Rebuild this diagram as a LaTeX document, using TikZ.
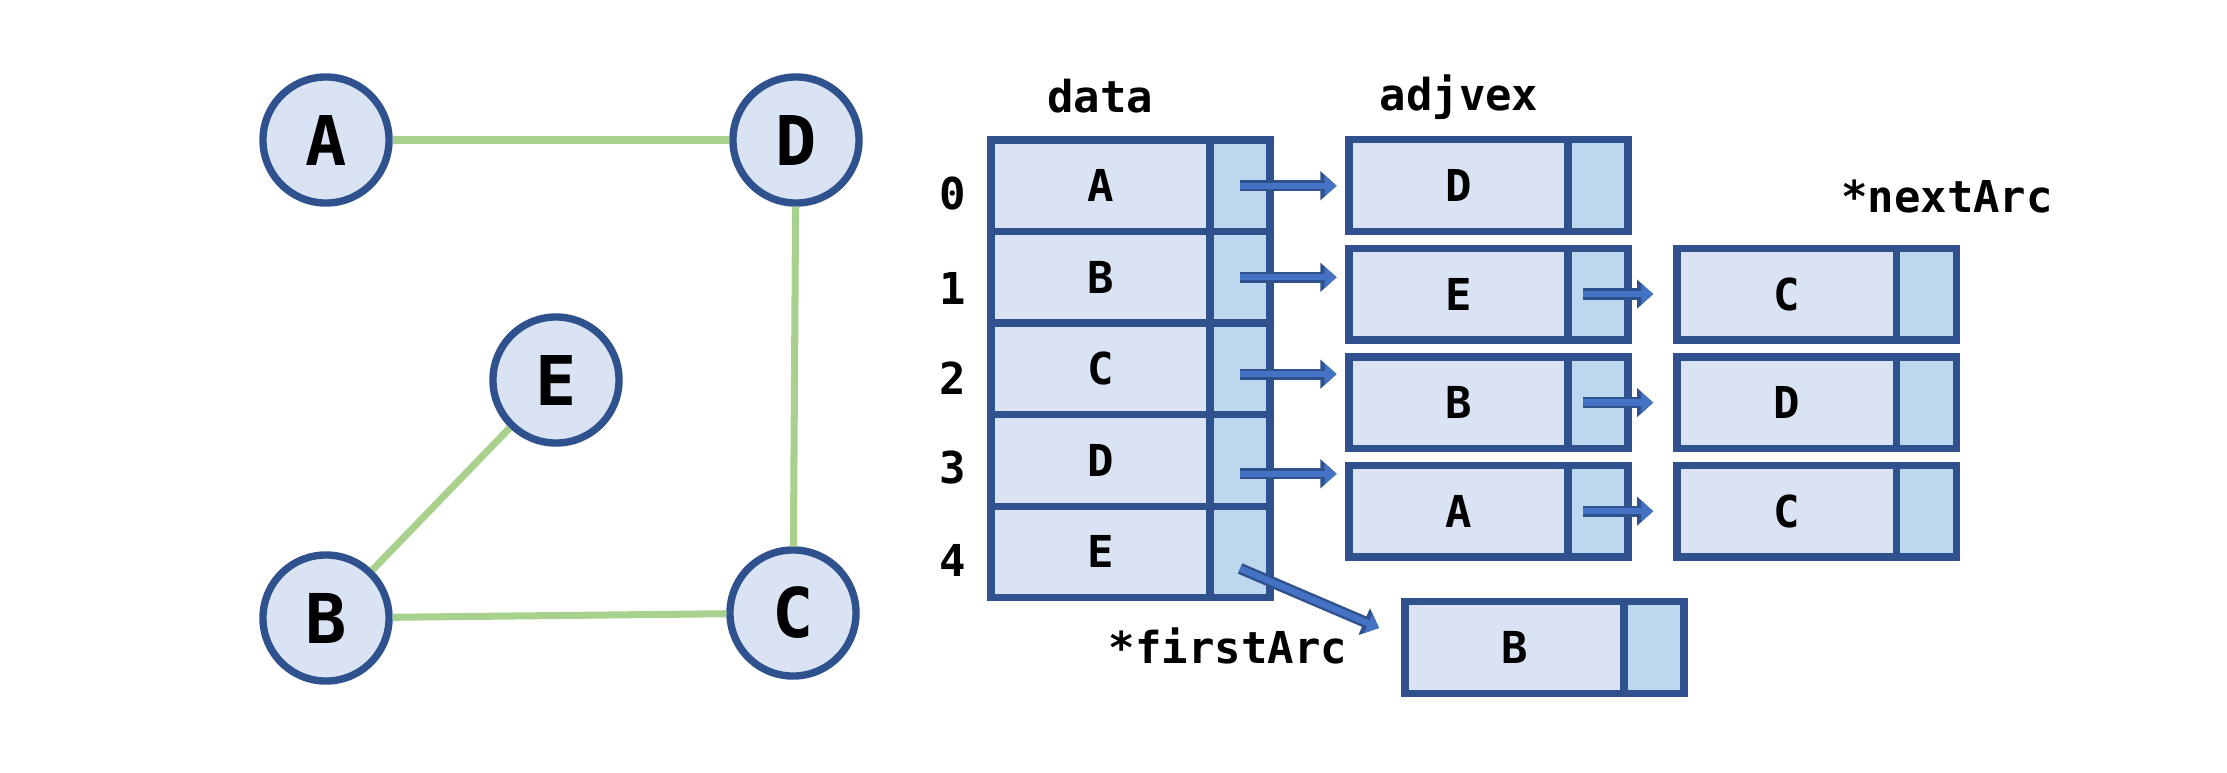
\documentclass[tikz,border=0pt]{standalone}
\usepackage{fontspec}
\setmonofont{DejaVu Sans Mono}
\usepackage{tikz}
\usetikzlibrary{positioning}
\usetikzlibrary{arrows.meta}

\definecolor{cellfill}{HTML}{DAE3F3}
\definecolor{ptrfill}{HTML}{BDD7EE}
\definecolor{frame}{HTML}{2F528F}
\definecolor{graphgreen}{HTML}{A9D18E}
\definecolor{arrowblue}{HTML}{4472C4}

\begin{document}
\begin{tikzpicture}[x=0.01cm, y=-0.01cm,
    vtx/.style={circle, draw=frame, fill=cellfill, line width=2.1pt, minimum size=1.26cm, inner sep=0pt,
        font=\ttfamily\bfseries\fontsize{19.5}{23}\selectfont},
    graphline/.style={graphgreen, line width=2pt},
    cell/.style={rectangle, draw=frame, fill=cellfill, line width=2.1pt, minimum width=2.19cm,
        minimum height=0.915cm, inner sep=0pt, outer sep=0pt,
        font=\ttfamily\bfseries\fontsize{12.5}{15}\selectfont},
    ptr/.style={cell, fill=ptrfill, minimum width=0.6cm},
    lbl/.style={inner sep=0pt, font=\ttfamily\bfseries\fontsize{12.5}{15}\selectfont},
    link/.style={preaction={draw=frame, line width=3.2pt, -{Triangle[length=4.6pt,width=8pt]}},
        arrowblue, line width=1.8pt, -{Triangle[length=3.4pt,width=5.8pt]}, shorten >=3.5pt}]

    \useasboundingbox (0,0) rectangle (2227,772);

    % the graph
    \node[vtx] (vA) at (326,140) {A};
    \node[vtx] (vD) at (796,140) {D};
    \node[vtx] (vE) at (556,380) {E};
    \node[vtx] (vB) at (326,618) {B};
    \node[vtx] (vC) at (793,613) {C};

    \draw[graphline] (vA) -- (vD);
    \draw[graphline] (vD) -- (vC);
    \draw[graphline] (vB) -- (vC);
    \draw[graphline] (vB) -- (vE);

    % vertex table
    \node[cell] (d0) at (1100.5,185.75) {A};
    \node[ptr, right=0pt of d0] (f0) {};
    \node[cell, below=0pt of d0] (d1) {B};
    \node[ptr, right=0pt of d1] (f1) {};
    \node[cell, below=0pt of d1] (d2) {C};
    \node[ptr, right=0pt of d2] (f2) {};
    \node[cell, below=0pt of d2] (d3) {D};
    \node[ptr, right=0pt of d3] (f3) {};
    \node[cell, below=0pt of d3] (d4) {E};
    \node[ptr, right=0pt of d4] (f4) {};

    \node[lbl] (i0) at (953,193) {0};
    \node[lbl] (i1) at (953,288) {1};
    \node[lbl] (i2) at (953,378) {2};
    \node[lbl] (i3) at (953,467) {3};
    \node[lbl] (i4) at (953,560) {4};

    \node[lbl, anchor=base] (hdata) at (1100,112) {data};
    \node[lbl, anchor=base] (hadj) at (1459,110) {adjvex};
    \node[lbl, anchor=base] (hnext) at (1947,212) {*nextArc};
    \node[lbl, anchor=base] (hfirst) at (1228,663) {*firstArc};

    % arc nodes
    \node[cell] (r0) at (1458.5,185.5) {D};
    \node[ptr, right=0pt of r0] (s0) {};
    \node[cell, below=0.17cm of r0] (r1) {E};
    \node[ptr, right=0pt of r1] (s1) {};
    \node[cell, below=0.17cm of r1] (r2) {B};
    \node[ptr, right=0pt of r2] (s2) {};
    \node[cell, below=0.17cm of r2] (r3) {A};
    \node[ptr, right=0pt of r3] (s3) {};
    \node[cell] (r4) at (1514.5,647.5) {B};
    \node[ptr, right=0pt of r4] (s4) {};

    \node[cell, right=0.49cm of s1] (t1) {C};
    \node[ptr, right=0pt of t1] (u1) {};
    \node[cell, right=0.49cm of s2] (t2) {D};
    \node[ptr, right=0pt of t2] (u2) {};
    \node[cell, right=0.49cm of s3] (t3) {C};
    \node[ptr, right=0pt of t3] (u3) {};

    % pointers
    \draw[link] (f0.center) -- (f0.center -| r0.west);
    \draw[link] (f1.center) -- (f1.center -| r1.west);
    \draw[link] ([yshift=-1.5pt]f2.center) -- ([yshift=-1.5pt]f2.center -| r2.west);
    \draw[link] ([yshift=-3.8pt]f3.center) -- ([yshift=-3.8pt]f3.center -| r3.west);
    \draw[link, shorten >=8pt] ([yshift=-4.7pt]f4.center) -- ([yshift=2.4pt]r4.west);

    \draw[link, shorten >=2.5pt] ([xshift=-4.3pt]s1.center) -- ([xshift=-4.3pt]s1.center -| t1.west);
    \draw[link, shorten >=2.5pt] ([xshift=-4.3pt]s2.center) -- ([xshift=-4.3pt]s2.center -| t2.west);
    \draw[link, shorten >=2.5pt] ([xshift=-4.3pt]s3.center) -- ([xshift=-4.3pt]s3.center -| t3.west);
\end{tikzpicture}
\end{document}
